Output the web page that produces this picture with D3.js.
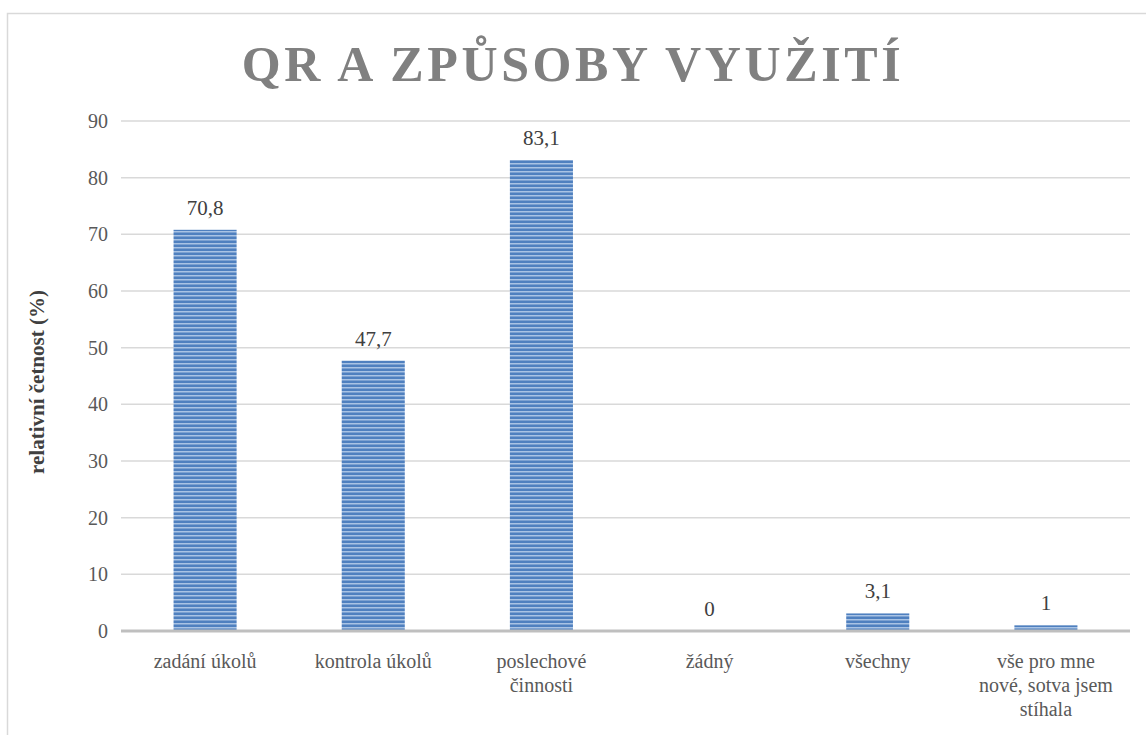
<!DOCTYPE html>
<html lang="cs">
<head>
  <meta charset="UTF-8">
  <title>QR a způsoby využití</title>
  <style>
    body { margin: 0; background: #fff; }
    svg text { font-family: 'Liberation Serif', 'Times New Roman', serif; }
  </style>
</head>
<body>
  <div id="chart"></div>
  <script src="https://cdn.jsdelivr.net/npm/d3@7"></script>
  <script>
    // data
    const categories = [
      ['zadání úkolů'],
      ['kontrola úkolů'],
      ['poslechové', 'činnosti'],
      ['žádný'],
      ['všechny'],
      ['vše pro mne', 'nové, sotva jsem', 'stíhala']
    ];
    const values = [70.8, 47.7, 83.1, 0, 3.1, 1];
    const valueLabels = ['70,8', '47,7', '83,1', '0', '3,1', '1'];
    const yTicks = [0, 10, 20, 30, 40, 50, 60, 70, 80, 90];

    const W = 1146, H = 735;
    const plot = { left: 121, right: 1130, top: 121, bottom: 631 };

    const svg = d3.select('#chart').append('svg')
      .attr('width', W).attr('height', H);

    // stripe pattern for bars
    const defs = svg.append('defs');
    const pat = defs.append('pattern')
      .attr('id', 'stripes')
      .attr('patternUnits', 'userSpaceOnUse')
      .attr('width', 8).attr('height', 4);
    pat.append('rect').attr('width', 8).attr('height', 4).attr('fill', '#a9c3e4');
    pat.append('rect').attr('y', 0.5).attr('width', 8).attr('height', 2.5).attr('fill', '#4f80bf');

    // chart frame
    svg.append('path')
      .attr('d', 'M7.5,' + H + 'V13.5H' + W)
      .attr('fill', 'none')
      .attr('stroke', '#d9d9d9')
      .attr('stroke-width', 1.5);

    const x = d3.scaleBand()
      .domain(d3.range(categories.length))
      .range([plot.left, plot.right])
      .paddingInner(0.625)
      .paddingOuter(0.3125);

    const y = d3.scaleLinear()
      .domain([0, 90])
      .range([plot.bottom, plot.top]);

    // gridlines
    svg.append('g')
      .selectAll('line')
      .data(yTicks.filter(d => d > 0))
      .join('line')
      .attr('x1', plot.left).attr('x2', plot.right)
      .attr('y1', d => y(d)).attr('y2', d => y(d))
      .attr('stroke', '#d9d9d9')
      .attr('stroke-width', 1.5);

    // y tick labels
    svg.append('g')
      .selectAll('text')
      .data(yTicks)
      .join('text')
      .attr('x', 108)
      .attr('y', d => y(d))
      .attr('dy', '0.35em')
      .attr('text-anchor', 'end')
      .attr('font-size', 20)
      .attr('fill', '#595959')
      .text(d => d);

    // bars
    svg.append('g')
      .selectAll('rect')
      .data(values)
      .join('rect')
      .attr('x', (d, i) => x(i))
      .attr('y', d => y(d))
      .attr('width', x.bandwidth())
      .attr('height', d => plot.bottom - y(d))
      .attr('fill', 'url(#stripes)');

    // baseline
    svg.append('line')
      .attr('x1', plot.left).attr('x2', plot.right)
      .attr('y1', plot.bottom).attr('y2', plot.bottom)
      .attr('stroke', '#bfbfbf')
      .attr('stroke-width', 3);

    // value labels
    svg.append('g')
      .selectAll('text')
      .data(values)
      .join('text')
      .attr('x', (d, i) => x(i) + x.bandwidth() / 2)
      .attr('y', d => y(d) - 15)
      .attr('text-anchor', 'middle')
      .attr('font-size', 21)
      .attr('fill', '#404040')
      .text((d, i) => valueLabels[i]);

    // category labels
    const cat = svg.append('g')
      .selectAll('text')
      .data(categories)
      .join('text')
      .attr('x', (d, i) => x(i) + x.bandwidth() / 2)
      .attr('y', 668)
      .attr('text-anchor', 'middle')
      .attr('font-size', 20)
      .attr('fill', '#595959');
    cat.selectAll('tspan')
      .data((d, i) => d.map(t => ({ t, i })))
      .join('tspan')
      .attr('x', d => x(d.i) + x.bandwidth() / 2)
      .attr('dy', (d, j) => j === 0 ? 0 : 24)
      .text(d => d.t);

    // y axis title
    svg.append('text')
      .attr('transform', 'translate(44,' + ((plot.top + plot.bottom) / 2 + 6) + ') rotate(-90)')
      .attr('text-anchor', 'middle')
      .attr('font-size', 21)
      .attr('font-weight', 'bold')
      .attr('fill', '#404040')
      .text('relativní četnost (%)');

    // title
    svg.append('text')
      .attr('x', 573)
      .attr('y', 81)
      .attr('text-anchor', 'middle')
      .attr('font-size', 50)
      .attr('font-weight', 'bold')
      .attr('letter-spacing', 3.6)
      .attr('fill', '#808080')
      .text('QR A ZPŮSOBY VYUŽITÍ');
  </script>
</body>
</html>
